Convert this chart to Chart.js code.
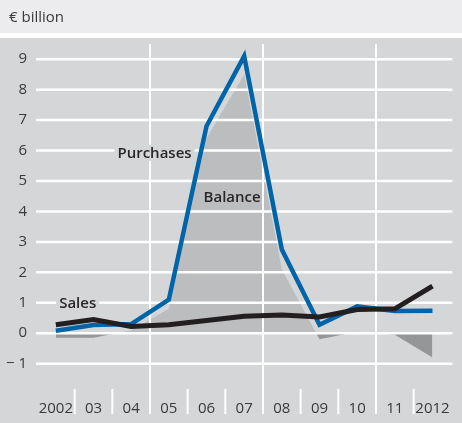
<!DOCTYPE html>
<html>
<head>
<meta charset="utf-8">
<script src="https://cdn.jsdelivr.net/npm/chart.js@4.4.1/dist/chart.umd.min.js"></script>
<style>
    html, body { margin: 0; padding: 0; background: #fff; }
    canvas { display: block; }
</style>
</head>
<body>
<canvas id="chart" width="462" height="423"></canvas>
<script>
const years = ['2002', '03', '04', '05', '06', '07', '08', '09', '10', '11', '2012'];
const purchases = [0.08, 0.27, 0.3, 1.1, 6.8, 9.1, 2.75, 0.28, 0.88, 0.73, 0.74];
const sales = [0.28, 0.45, 0.22, 0.28, 0.42, 0.56, 0.6, 0.53, 0.78, 0.8, 1.55];
const balance = [-0.15, -0.15, 0.1, 0.8, 6.4, 8.5, 2.1, -0.2, 0.05, -0.05, -0.8];
const yTicks = [-1, 0, 1, 2, 3, 4, 5, 6, 7, 8, 9];

const textColor = '#3a3a3a';
const chartBg = '#d5d6d8';
const font = '"Open Sans", "Noto Sans", sans-serif';

// annotations placed in data units (category index, value)
const labelSpots = [
    { text: 'Purchases', x: 2.62, y: 5.92, knockout: true },
    { text: 'Balance', x: 4.68, y: 4.47, knockout: false },
    { text: 'Sales', x: 0.58, y: 1.0, knockout: true }
];

const backdrop = {
    id: 'backdrop',
    beforeDraw(chart) {
        const { ctx, width, height } = chart;
        ctx.save();
        ctx.fillStyle = '#fff';
        ctx.fillRect(0, 0, width, height);
        ctx.fillStyle = '#ececee';
        ctx.fillRect(0, 0, width, 33);
        ctx.fillStyle = chartBg;
        ctx.fillRect(0, 38, width, height - 38);
        ctx.fillStyle = textColor;
        ctx.font = `15px ${font}`;
        ctx.textBaseline = 'alphabetic';
        ctx.fillText('€ billion', 9, 22);
        ctx.restore();
    }
};

// grid goes over the balance area but under the two lines
const overlay = {
    id: 'overlay',
    afterDatasetDraw(chart, args) {
        if (args.index !== 2) {
            return;
        }
        const { ctx, chartArea } = chart;
        const xs = chart.scales.x;
        const ys = chart.scales.y;
        ctx.save();
        ctx.strokeStyle = '#fff';
        ctx.lineWidth = 2.5;

        yTicks.forEach(v => {
            const y = ys.getPixelForValue(v);
            ctx.beginPath();
            ctx.moveTo(chartArea.left - 1, y);
            ctx.lineTo(chartArea.right + 1, y);
            ctx.stroke();
        });

        ctx.lineWidth = 2;
        for (let i = 0; i < years.length - 1; i++) {
            const x = (xs.getPixelForValue(i) + xs.getPixelForValue(i + 1)) / 2;
            const full = i === 2 || i === 5 || i === 8;
            ctx.beginPath();
            ctx.moveTo(x, full ? chartArea.top : chartArea.bottom + 1);
            ctx.lineTo(x, chartArea.bottom + 26);
            ctx.stroke();
        }

        ctx.font = `600 15px ${font}`;
        ctx.textAlign = 'center';
        ctx.textBaseline = 'middle';
        labelSpots.forEach(spot => {
            const x = xs.getPixelForValue(spot.x);
            const y = ys.getPixelForValue(spot.y);
            if (spot.knockout) {
                const w = ctx.measureText(spot.text).width + 6;
                ctx.fillStyle = chartBg;
                ctx.fillRect(x - w / 2, y - 8, w, 16);
            }
            ctx.fillStyle = '#2a2627';
            ctx.fillText(spot.text, x, y + 1);
        });
        ctx.restore();
    }
};

new Chart(document.getElementById('chart'), {
    type: 'line',
    data: {
        labels: years,
        datasets: [
            {
                label: 'Sales',
                data: sales,
                borderColor: '#231f20',
                borderWidth: 5,
                pointRadius: 0,
                tension: 0,
                fill: false
            },
            {
                label: 'Purchases',
                data: purchases,
                borderColor: '#0064a8',
                borderWidth: 4.5,
                pointRadius: 0,
                tension: 0,
                fill: false
            },
            {
                label: 'Balance',
                data: balance,
                borderWidth: 0,
                borderColor: 'rgba(0,0,0,0)',
                pointRadius: 0,
                tension: 0,
                fill: {
                    target: 'origin',
                    above: '#bcbdbf',
                    below: '#959698'
                }
            }
        ]
    },
    options: {
        responsive: false,
        animation: false,
        layout: {
            padding: { top: 44, right: 8, left: 0, bottom: 0 }
        },
        plugins: {
            legend: { display: false },
            tooltip: { enabled: false }
        },
        scales: {
            x: {
                offset: true,
                grid: { display: false, drawTicks: false },
                border: { display: false },
                afterFit(scale) {
                    scale.height = 35;
                },
                ticks: {
                    color: textColor,
                    font: { family: font, size: 15 },
                    padding: 12,
                    autoSkip: false,
                    maxRotation: 0
                }
            },
            y: {
                min: -1.8,
                max: 9.5,
                grid: { display: false, drawTicks: false },
                border: { display: false },
                afterFit(scale) {
                    scale.width = 37;
                },
                afterBuildTicks(scale) {
                    scale.ticks = yTicks.map(v => ({ value: v }));
                },
                ticks: {
                    color: textColor,
                    font: { family: font, size: 15 },
                    padding: 10,
                    callback: v => (v < 0 ? '\u2212 ' + Math.abs(v) : String(v))
                }
            }
        }
    },
    plugins: [backdrop, overlay]
});
</script>
</body>
</html>
